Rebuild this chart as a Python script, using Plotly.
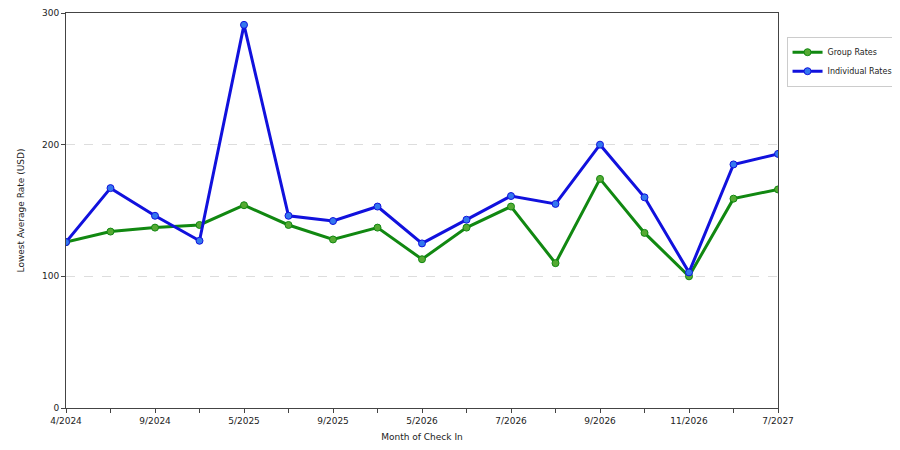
import plotly.graph_objects as go

months = ["4/2024", "7/2024", "9/2024", "12/2024", "5/2025", "7/2025", "9/2025", "12/2025",
          "5/2026", "6/2026", "7/2026", "8/2026", "9/2026", "10/2026", "11/2026", "4/2027", "7/2027"]
tick_labels = ["4/2024", "", "9/2024", "", "5/2025", "", "9/2025", "", "5/2026", "", "7/2026", "",
               "9/2026", "", "11/2026", "", "7/2027"]
group_rates = [126, 134, 137, 139, 154, 139, 128, 137, 113, 137, 153, 110, 174, 133, 100, 159, 166]
individual_rates = [126, 167, 146, 127, 291, 146, 142, 153, 125, 143, 161, 155, 200, 160, 103, 185, 193]

fig = go.Figure()
fig.add_trace(go.Scatter(x=months, y=group_rates, name="Group Rates", mode="lines+markers",
                         line=dict(color="#118811", width=3),
                         marker=dict(color="#55aa33", size=7, line=dict(color="#118811", width=1))))
fig.add_trace(go.Scatter(x=months, y=individual_rates, name="Individual Rates", mode="lines+markers",
                         line=dict(color="#1111dd", width=3),
                         marker=dict(color="#3377ee", size=7, line=dict(color="#1111dd", width=1))))

fig.update_layout(
    width=900, height=450, paper_bgcolor="white", plot_bgcolor="white",
    margin=dict(l=58, r=130, t=5, b=50, autoexpand=False),
    font=dict(family="DejaVu Sans", size=9, color="#222"),
    xaxis=dict(title=dict(text="Month of Check In", font=dict(size=9), standoff=8), type="category",
               tickvals=months, ticktext=tick_labels, showgrid=False, range=[0, 16],
               showline=True, linecolor="#444", ticks="outside", ticklen=4, mirror=True,
               automargin=False),
    yaxis=dict(title=dict(text="Lowest Average Rate (USD)", font=dict(size=9)), range=[0, 300],
               tickvals=[0, 100, 200, 300], showgrid=True, gridcolor="#ddd", griddash="dash",
               showline=True, linecolor="#444", ticks="outside", ticklen=4, mirror=True,
               zeroline=False, automargin=False),
    legend=dict(x=1.012, y=0.94, xanchor="left", yanchor="top", bordercolor="#ccc",
                borderwidth=1, font=dict(size=8), itemwidth=30, tracegroupgap=2),
)
fig.write_html("out.html")
